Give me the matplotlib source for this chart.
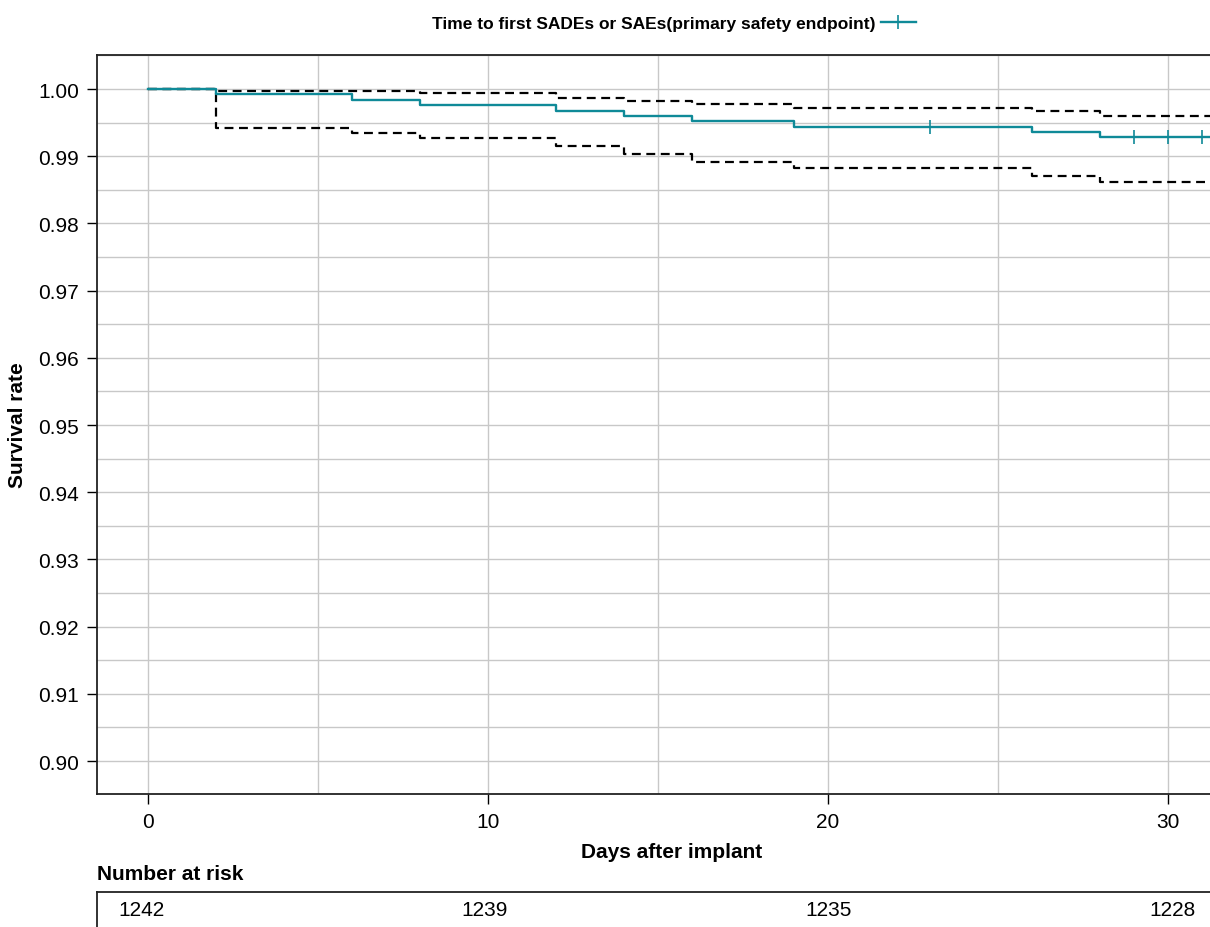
import matplotlib
matplotlib.use('Agg')
import matplotlib.pyplot as plt
from matplotlib.ticker import MultipleLocator
from matplotlib.lines import Line2D

plt.rcParams['font.family'] = ['Liberation Sans', 'DejaVu Sans']

# Kaplan-Meier estimate (step, post)
km_days = [0, 2, 6, 8, 12, 14, 16, 19, 26, 28, 32]
km_surv = [1.0, 0.9993, 0.9984, 0.9977, 0.9968, 0.9960, 0.9952, 0.9944, 0.9936, 0.9929, 0.9929]

# confidence band
upper_days = [0, 2, 8, 12, 14, 16, 19, 26, 28, 32]
upper_surv = [1.0, 0.99975, 0.99936, 0.99866, 0.99817, 0.99781, 0.99717, 0.99668, 0.99603, 0.99603]
lower_days = [0, 2, 6, 8, 12, 14, 16, 19, 26, 28, 32]
lower_surv = [1.0, 0.9942, 0.99345, 0.99271, 0.99147, 0.99030, 0.98918, 0.98820, 0.98710, 0.98611, 0.98611]

# censored observations
censor_days = [23, 29, 30, 31]
censor_surv = [0.9944, 0.9929, 0.9929, 0.9929]

# number at risk table
risk_days = [0, 10, 20, 30]
risk_counts = [1242, 1239, 1235, 1228]

teal = '#0f8a98'
grid_col = '#c8c8c8'

fig = plt.figure(figsize=(12.1, 9.28), dpi=100)
ax = fig.add_axes([0.0802, 0.1433, 0.9198, 0.7963])

ax.step(upper_days, upper_surv, where='post', color='black', lw=1.6,
        linestyle=(0, (4, 2.5)), zorder=2)
ax.step(lower_days, lower_surv, where='post', color='black', lw=1.6,
        linestyle=(0, (4, 2.5)), zorder=2)
ax.step(km_days, km_surv, where='post', color=teal, lw=1.7, zorder=3)
ax.plot(censor_days, censor_surv, linestyle='none', marker='|', color=teal,
        markersize=10, markeredgewidth=1.2, zorder=4)

ax.set_xlim(-1.5, 31.235)
ax.set_ylim(0.8951, 1.00506)
ax.xaxis.set_major_locator(MultipleLocator(10))
ax.xaxis.set_minor_locator(MultipleLocator(5))
ax.yaxis.set_major_locator(MultipleLocator(0.01))
ax.yaxis.set_minor_locator(MultipleLocator(0.005))
ax.yaxis.set_major_formatter(matplotlib.ticker.FormatStrFormatter('%.2f'))
ax.grid(True, which='both', color=grid_col, lw=1.0, zorder=0)
ax.set_axisbelow(True)
ax.tick_params(which='major', direction='out', length=7, width=1.0,
               labelsize=15, pad=6, colors='black')
ax.tick_params(which='minor', length=0)
ax.spines['right'].set_visible(False)
for s in ['left', 'bottom', 'top']:
    ax.spines[s].set_color('#222222')
    ax.spines[s].set_linewidth(1.3)

ax.set_xlabel('Days after implant', fontsize=15, fontweight='bold', labelpad=8)
ax.xaxis.label.set_x(0.516)
ax.set_ylabel('Survival rate', fontsize=15, fontweight='bold')
ax.yaxis.set_label_coords(-0.063, 0.5)

handle = Line2D([], [], color=teal, lw=1.7, marker='|', markersize=10,
                markeredgewidth=1.2)
fig.legend([handle], ['Time to first SADEs or SAEs(primary safety endpoint)'],
           loc='center', bbox_to_anchor=(0.557, 0.974), frameon=False,
           markerfirst=False, handlelength=2.0, handletextpad=0.3,
           prop={'weight': 'bold', 'size': 12.5})

# risk table
tab = fig.add_axes([0.0802, 0.0, 0.9198, 0.0374])
tab.set_xlim(-1.29, 31.1)
tab.set_ylim(0, 1)
for d, n in zip(risk_days, risk_counts):
    tab.text(d, 0.5, str(n), ha='center', va='center', fontsize=15)
tab.set_xticks([])
tab.set_yticks([])
tab.spines['right'].set_visible(False)
tab.spines['bottom'].set_visible(False)
for s in ['left', 'top']:
    tab.spines[s].set_color('#222222')
    tab.spines[s].set_linewidth(1.3)
fig.text(0.0802, 1 - 880 / 928, 'Number at risk', fontsize=15,
         fontweight='bold', ha='left', va='baseline')

fig.savefig('out.png', dpi=100)
